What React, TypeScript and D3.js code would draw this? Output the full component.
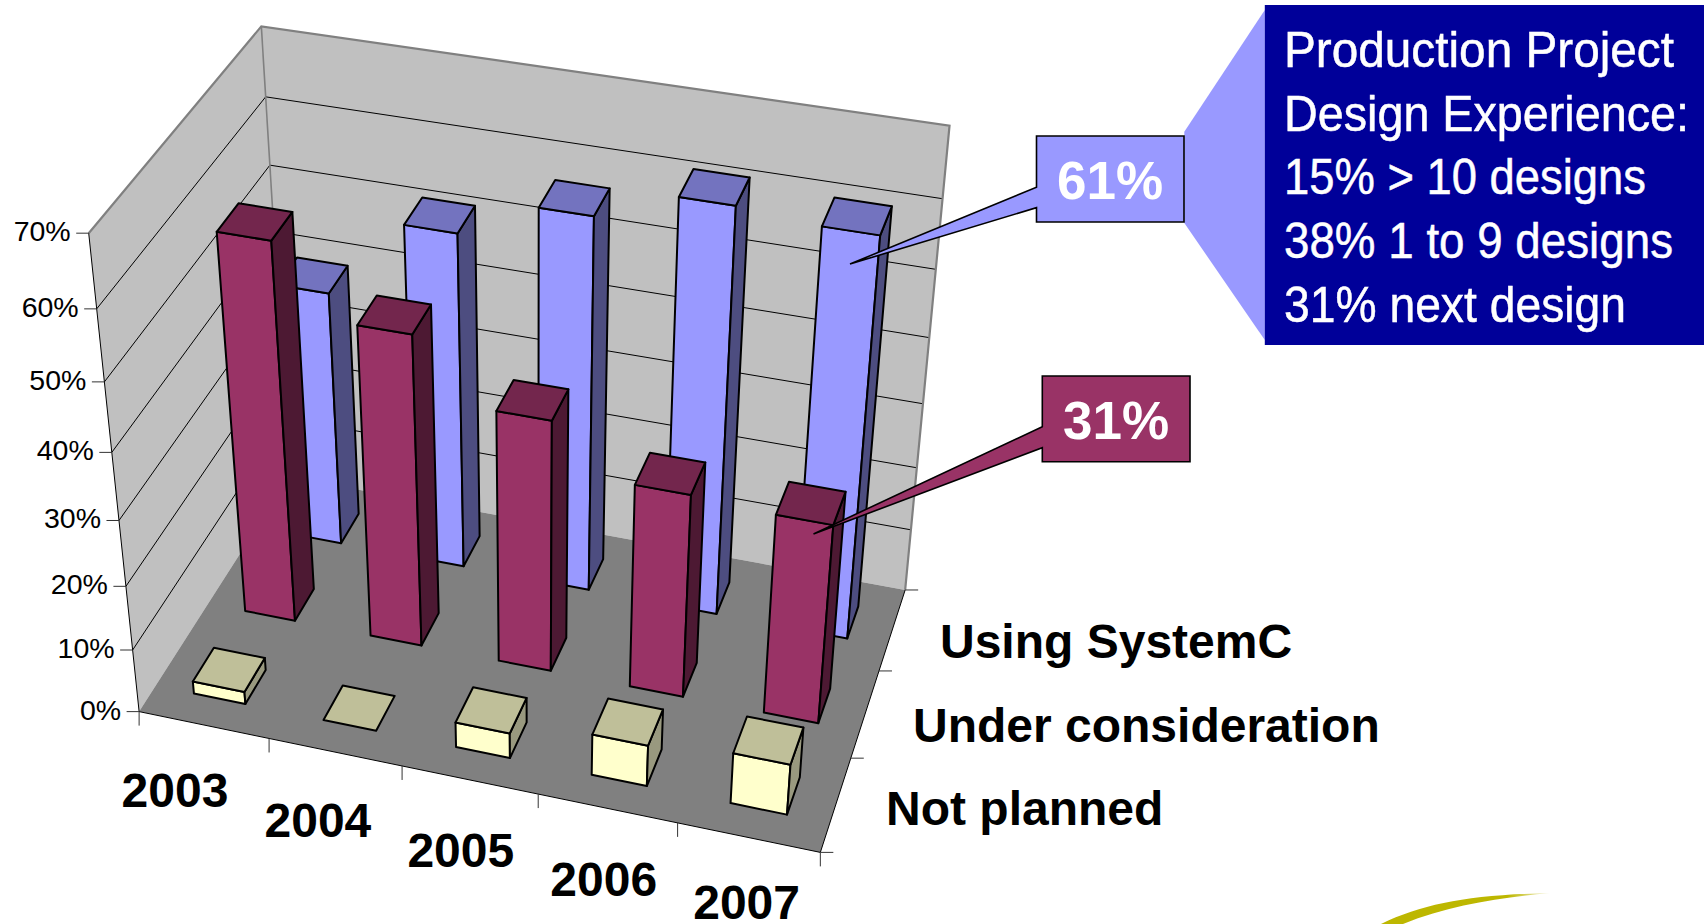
import React from "react";
import * as d3 from "d3";

const years = ["2003", "2004", "2005", "2006", "2007"];
const depthLabels = ["Not planned", "Under consideration", "Using SystemC"];
const valueTicks = [0, 10, 20, 30, 40, 50, 60, 70];
const notPlanned = [2, 0, 4, 6.5, 8];
const underConsideration = [58, 48, 39, 31.7, 31];
const usingSystemC = [40, 52, 57.5, 62, 61];
const noteLines = [
  "Production Project",
  "Design Experience:",
  "15% > 10 designs",
  "38% 1 to 9 designs",
  "31% next design",
];

// Camera calibration: where corners of the unit cube land on screen.
const cameraAnchors: number[][] = [
  [0, 0, 0, 138.4, 712], [0, 0, 1 / 7, 132.6, 650.3], [0, 0, 2 / 7, 125.9, 585.3], [0, 0, 3 / 7, 118.3, 520.3],
  [0, 0, 4 / 7, 111.6, 453.3], [0, 0, 5 / 7, 104.9, 383.3], [0, 0, 6 / 7, 97.3, 308.3], [0, 0, 1, 89.3, 232.3],
  [1, 1, 0, 906, 590.3], [1, 1, 1 / 7, 910, 530.7], [1, 1, 2 / 7, 917, 468], [1, 1, 3 / 7, 922.6, 403.3],
  [1, 1, 4 / 7, 929.6, 336.7], [1, 1, 5 / 7, 935, 269], [1, 1, 6 / 7, 942.5, 199], [1, 1, 1, 950.3, 126],
  [0, 1, 0, 290, 476], [0, 1, 5 / 7, 270, 165.7], [0, 1, 6 / 7, 265.6, 98.3], [0, 1, 1, 260.3, 25],
  [1, 0, 0, 820.4, 852],
];

function solveCamera(anchors: number[][]) {
  const rows: number[][] = [];
  const rhs: number[] = [];
  anchors.forEach(([X, D, Z, u0, v0]) => {
    const u = u0 / 1000, v = v0 / 1000;
    rows.push([X, D, Z, 1, 0, 0, 0, 0, -u * X, -u * D, -u * Z]); rhs.push(u);
    rows.push([0, 0, 0, 0, X, D, Z, 1, -v * X, -v * D, -v * Z]); rhs.push(v);
  });
  const n = 11;
  const A = d3.range(n).map((i) => [
    ...d3.range(n).map((j) => d3.sum(rows, (r) => r[i] * r[j])),
    d3.sum(rows, (r, k) => r[i] * rhs[k]),
  ]);
  for (let c = 0; c < n; c++) {
    let piv = c;
    for (let r = c + 1; r < n; r++) if (Math.abs(A[r][c]) > Math.abs(A[piv][c])) piv = r;
    [A[c], A[piv]] = [A[piv], A[c]];
    for (let r = 0; r < n; r++) {
      if (r === c) continue;
      const f = A[r][c] / A[c][c];
      for (let k = c; k <= n; k++) A[r][k] -= f * A[c][k];
    }
  }
  return d3.range(n).map((i) => A[i][n] / A[i][i]);
}
const P = solveCamera(cameraAnchors);
type Pt = [number, number];
const project = (X: number, D: number, Z: number): Pt => {
  const w = P[8] * X + P[9] * D + P[10] * Z + 1;
  return [
    (1000 * (P[0] * X + P[1] * D + P[2] * Z + P[3])) / w,
    (1000 * (P[4] * X + P[5] * D + P[6] * Z + P[7])) / w,
  ];
};

const xScale = d3.scaleBand<string>().domain(years).range([0, 1]).paddingInner(0.6).paddingOuter(0.3);
const depthScale = d3.scaleBand<string>().domain(depthLabels).range([0, 1]).paddingInner(0.6).paddingOuter(0.3);
const zScale = d3.scaleLinear().domain([0, 70]).range([0, 1]);
const xTicks = d3.scalePoint<number>().domain(d3.range(6)).range([0, 1]);
const depthTicks = d3.scalePoint<number>().domain(d3.range(4)).range([0, 1]);
const line = d3.line<Pt>();
const poly = (pts: Pt[]) => line(pts) + "Z";

const seriesList = [
  { name: depthLabels[2], values: usingSystemC, front: "#9999FF", top: "#7373BF", side: "#4D4D80" },
  { name: depthLabels[1], values: underConsideration, front: "#993366", top: "#73264D", side: "#4D1933" },
  { name: depthLabels[0], values: notPlanned, front: "#FFFFCC", top: "#BFBF99", side: "#99997F" },
];

const SANS = "'Liberation Sans', Arial, sans-serif";
const GRAY = "#808080";

const yearLabelX = d3.scalePoint<string>().domain(years).range([175, 746.6]);
const yearLabelY = [807, 837, 867, 896, 919];
const depthLabelLayout = [
  { x: 886, y: 825 },
  { x: 913, y: 742 },
  { x: 940, y: 658 },
];
const noteScaleX = 0.93;
const noteWidths = [390, 405, 362, 389, 342];
const noteBaselines = [66.7, 130.7, 194.3, 258.3, 322.3];

export default function App() {
  const bars = seriesList.flatMap((s) =>
    s.values.map((v, i) => {
      const x0 = xScale(years[i])!;
      const x1 = x0 + xScale.bandwidth();
      const d0 = depthScale(s.name)!;
      const d1 = d0 + depthScale.bandwidth();
      const z = zScale(v);
      return {
        key: s.name + years[i],
        s,
        v,
        front: poly([project(x0, d0, 0), project(x1, d0, 0), project(x1, d0, z), project(x0, d0, z)]),
        side: poly([project(x1, d0, 0), project(x1, d1, 0), project(x1, d1, z), project(x1, d0, z)]),
        top: poly([project(x0, d0, z), project(x1, d0, z), project(x1, d1, z), project(x0, d1, z)]),
      };
    })
  );

  return (
    <svg
      width={1704}
      height={924}
      viewBox="0 0 1704 924"
      style={{ position: "absolute", left: 0, top: 0, display: "block", background: "#fff" }}
    >
      <defs>
        <linearGradient id="swoosh" x1="0" x2="1" y1="0" y2="0">
          <stop offset="0" stopColor="#BDB700" />
          <stop offset="0.75" stopColor="#BDB700" />
          <stop offset="1" stopColor="#BDB700" stopOpacity="0.15" />
        </linearGradient>
      </defs>

      {/* walls and floor */}
      <path d={poly([project(0, 0, 0), project(0, 1, 0), project(0, 1, 1), project(0, 0, 1)])} fill="#C0C0C0" />
      <path d={poly([project(0, 1, 0), project(1, 1, 0), project(1, 1, 1), project(0, 1, 1)])} fill="#C0C0C0" />
      <path d={poly([project(0, 0, 0), project(1, 0, 0), project(1, 1, 0), project(0, 1, 0)])} fill={GRAY} />

      {/* gridlines */}
      {valueTicks.slice(1, -1).map((t) => (
        <path
          key={t}
          d={line([project(0, 0, zScale(t)), project(0, 1, zScale(t)), project(1, 1, zScale(t))])!}
          fill="none"
          stroke="#000"
          strokeWidth={1}
        />
      ))}

      {/* gray frame */}
      <path
        d={line([project(0, 0, 1), project(0, 1, 1), project(1, 1, 1), project(1, 1, 0)])!}
        fill="none"
        stroke={GRAY}
        strokeWidth={2.2}
      />
      <path d={line([project(0, 1, 1), project(0, 1, 0)])!} fill="none" stroke={GRAY} strokeWidth={1.6} />

      {/* axes */}
      <path
        d={line([project(0, 0, 1), project(0, 0, 0), project(1, 0, 0), project(1, 1, 0)])!}
        fill="none"
        stroke="#000"
        strokeWidth={1}
      />
      {valueTicks.map((t) => {
        const [x, y] = project(0, 0, zScale(t));
        return (
          <g key={t}>
            <line x1={x - 12.5} x2={x} y1={y} y2={y} stroke="#333" strokeWidth={1} />
            <text
              x={x - 18}
              y={y}
              dy="0.28em"
              textAnchor="end"
              fontFamily={SANS}
              fontSize={28.5}
              fill="#000"
            >
              {t}%
            </text>
          </g>
        );
      })}
      {xTicks.domain().map((k) => {
        const [x, y] = project(xTicks(k)!, 0, 0);
        return <line key={k} x1={x} x2={x} y1={y} y2={y + 14} stroke="#333" strokeWidth={1} />;
      })}
      {depthTicks.domain().map((k) => {
        const [x, y] = project(1, depthTicks(k)!, 0);
        return <line key={k} x1={x} x2={x + 13} y1={y} y2={y} stroke="#333" strokeWidth={1} />;
      })}

      {/* bars */}
      {bars.map((b) => (
        <g key={b.key} stroke="#000" strokeWidth={2} strokeLinejoin="round">
          {b.v > 0 && <path d={b.front} fill={b.s.front} />}
          {b.v > 0 && <path d={b.side} fill={b.s.side} />}
          <path d={b.top} fill={b.s.top} />
        </g>
      ))}

      {/* axis labels */}
      {years.map((y, i) => (
        <text
          key={y}
          x={yearLabelX(y)}
          y={yearLabelY[i]}
          textAnchor="middle"
          fontFamily={SANS}
          fontWeight="bold"
          fontSize={48}
          fill="#000"
        >
          {y}
        </text>
      ))}
      {depthLabels.map((l, i) => (
        <text
          key={l}
          x={depthLabelLayout[i].x}
          y={depthLabelLayout[i].y}
          fontFamily={SANS}
          fontWeight="bold"
          fontSize={48}
          fill="#000"
        >
          {l}
        </text>
      ))}

      {/* note box */}
      <path d="M1264.8 10 L1184.3 131.7 L1184.3 223 L1264.8 340 Z" fill="#9999FF" />
      <rect x={1264.8} y={5} width={440} height={340} fill="#000099" />
      {noteLines.map((l, i) => (
        <text
          key={l}
          transform={`translate(1284,${noteBaselines[i]}) scale(${noteScaleX},1)`}
          fontFamily={SANS}
          fontSize={50}
          fill="#fff"
          stroke="#fff"
          strokeWidth={0.5}
          textLength={noteWidths[i] / noteScaleX}
          lengthAdjust="spacingAndGlyphs"
        >
          {l}
        </text>
      ))}

      {/* callouts */}
      <path
        d="M1036.5 136 H1184 V222 H1036.5 V207.7 L850 264 L1036.5 187.3 Z"
        fill="#9999FF"
        stroke="#000"
        strokeWidth={1.6}
        strokeLinejoin="miter"
      />
      <text x={1110} y={199.3} textAnchor="middle" fontFamily={SANS} fontWeight="bold" fontSize={53} fill="#fff">
        {usingSystemC[4]}%
      </text>
      <path
        d="M1042.3 376 H1190 V461.7 H1042.3 V447.7 L813.5 534 L1042.3 426.7 Z"
        fill="#993366"
        stroke="#000"
        strokeWidth={1.6}
        strokeLinejoin="miter"
      />
      <text x={1116} y={439.3} textAnchor="middle" fontFamily={SANS} fontWeight="bold" fontSize={53} fill="#fff">
        {underConsideration[4]}%
      </text>

      {/* swoosh */}
      <path
        d="M1381 924 C1425 903 1470 895 1550 893 C1500 898 1450 905 1403 924 Z"
        fill="url(#swoosh)"
      />
    </svg>
  );
}
